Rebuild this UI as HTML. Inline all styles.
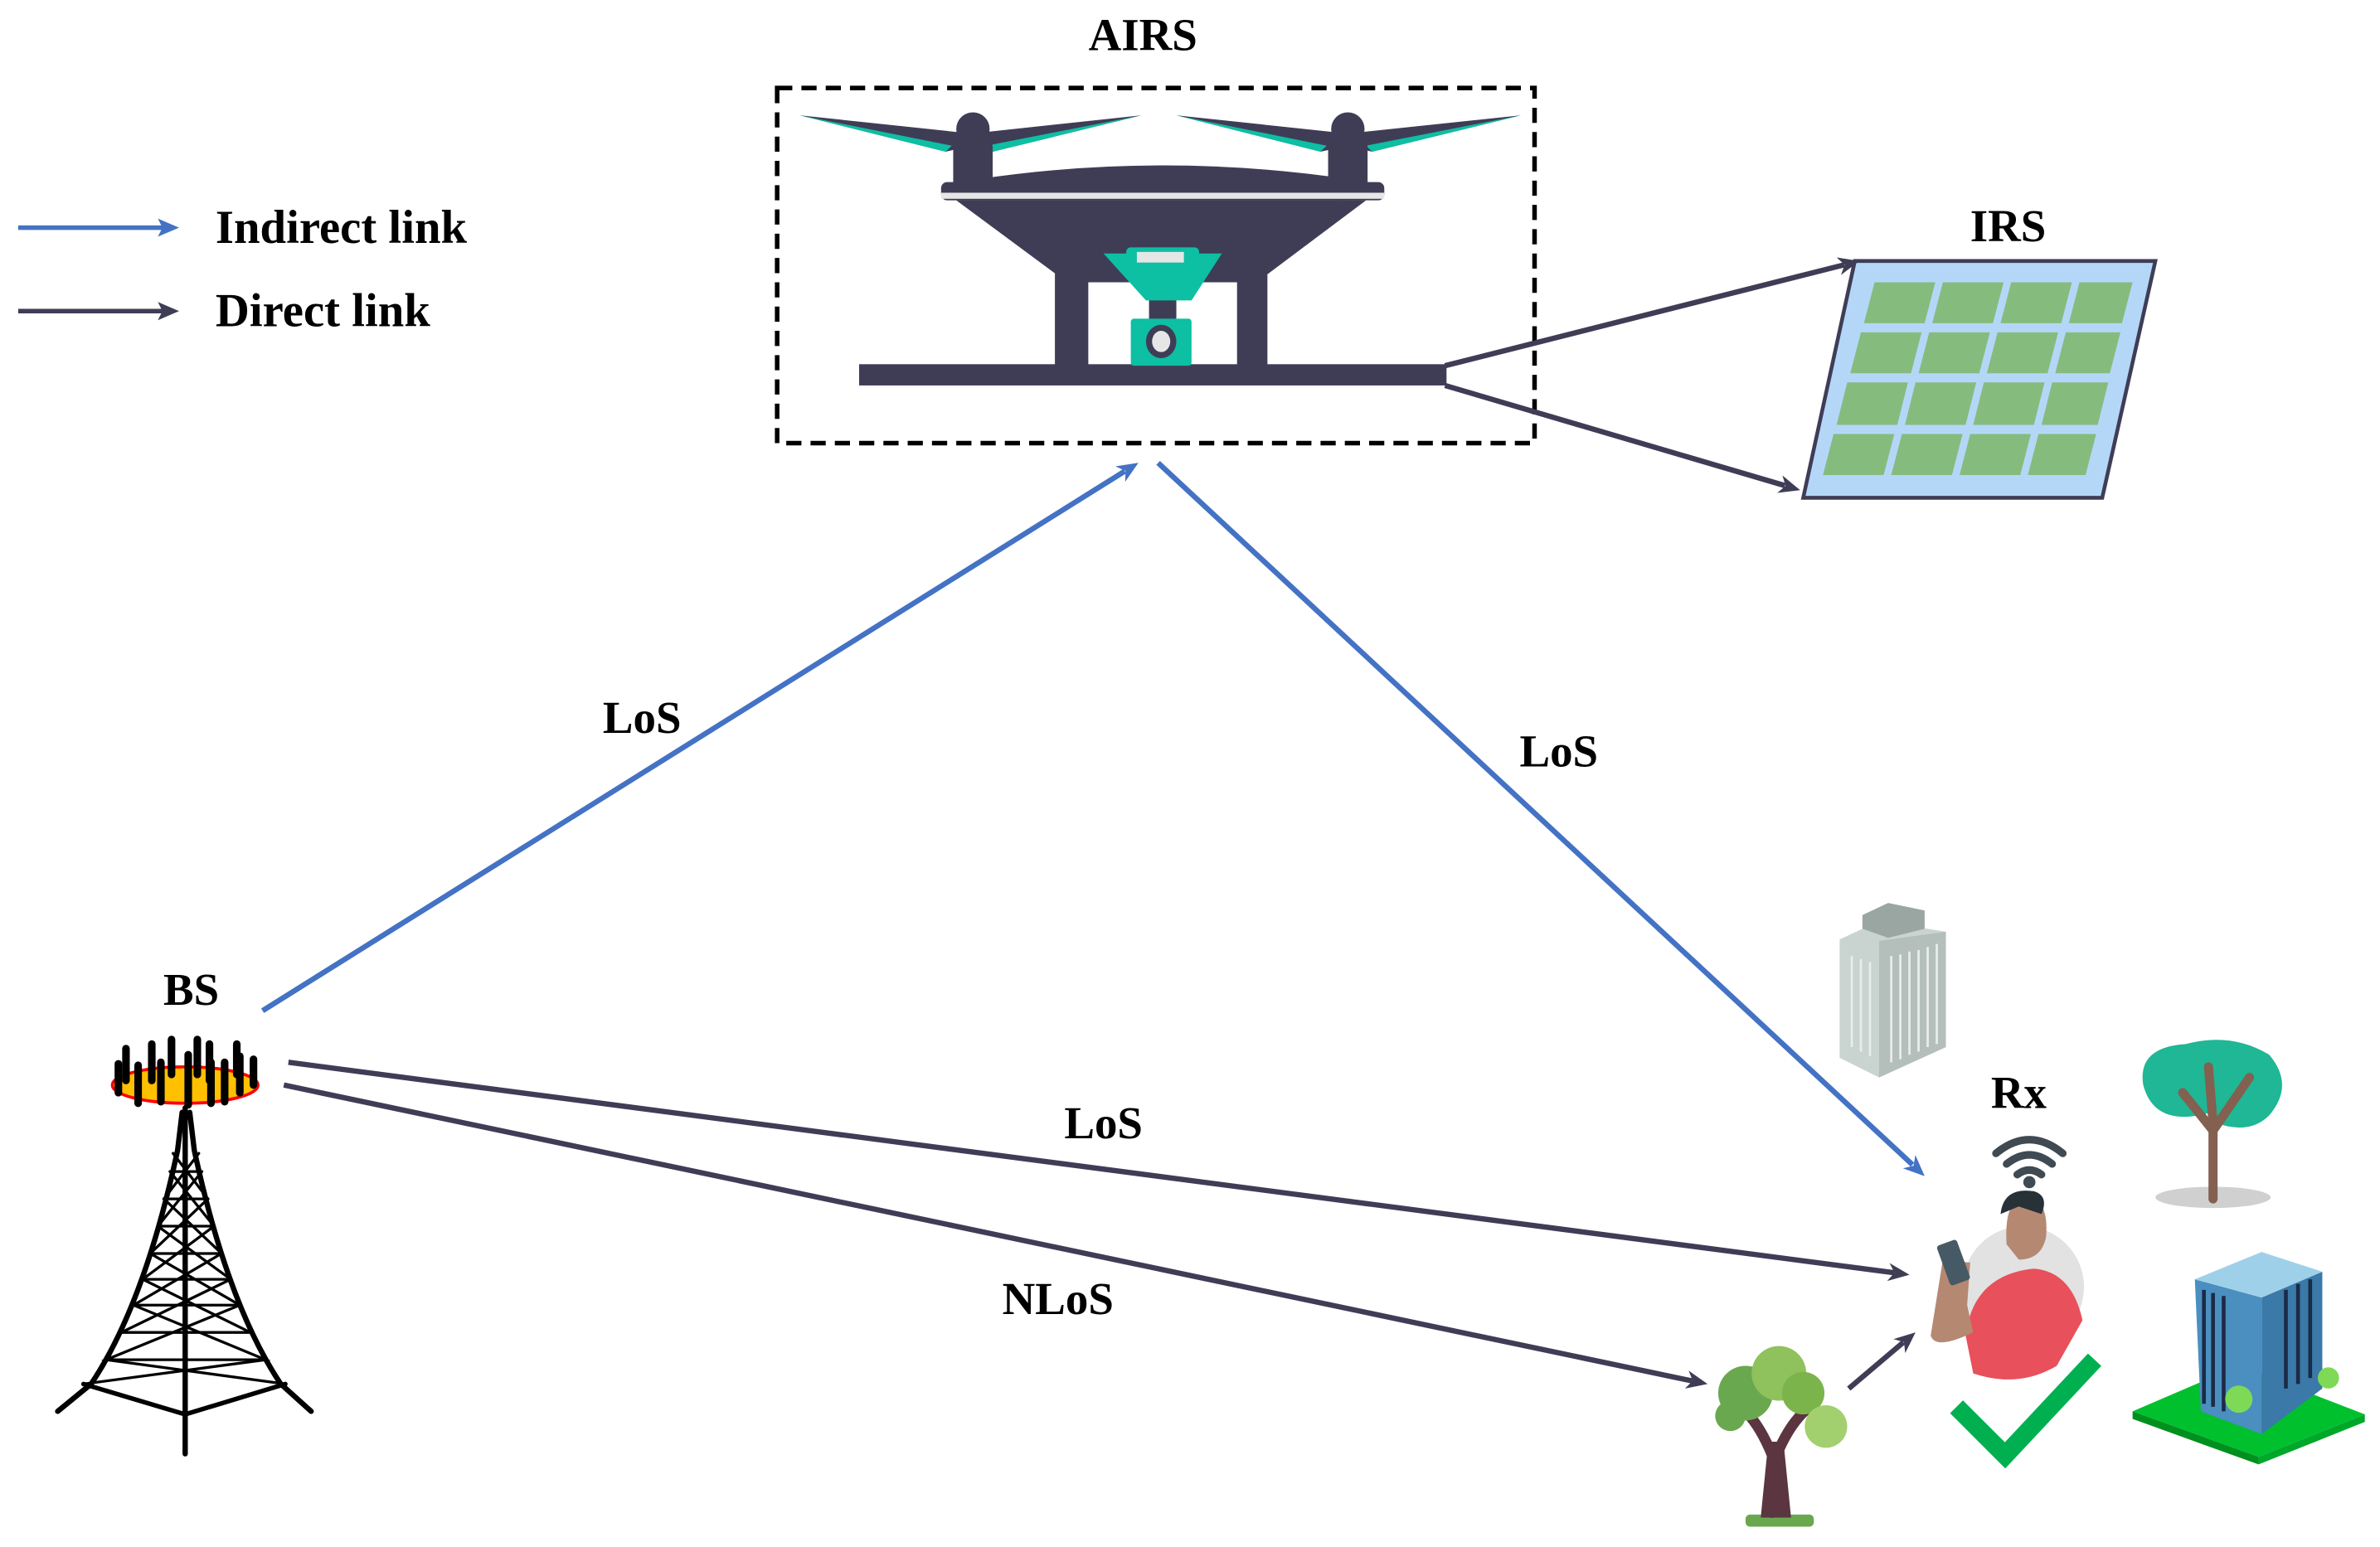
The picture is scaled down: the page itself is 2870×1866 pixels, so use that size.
<!DOCTYPE html>
<html><head><meta charset="utf-8"><style>
html,body{margin:0;padding:0;background:#fff;}
svg{display:block;}
text{font-family:"Liberation Serif",serif;font-weight:bold;fill:#000;}
</style></head><body>
<svg width="2870" height="1866" viewBox="0 0 1568 1019.4" preserveAspectRatio="none" xmlns="http://www.w3.org/2000/svg">
<style>.ab{stroke:#4472c4;stroke-width:3.5;fill:none}.ad{stroke:#3f3d56;stroke-width:3.5;fill:none}</style>

<!-- legend -->
<line x1="12" y1="150" x2="110" y2="150" class="ab" style="stroke-width:3"/>
<polygon points="118,150 104,144 107,150 104,156" fill="#4472c4"/>
<text x="142" y="160" font-size="31">Indirect link</text>
<line x1="12" y1="205" x2="110" y2="205" class="ad" style="stroke-width:3"/>
<polygon points="118,205 104,199 107,205 104,211" fill="#3f3d56"/>
<text x="142" y="215" font-size="31">Direct link</text>

<!-- AIRS -->
<text x="753" y="33" font-size="30" text-anchor="middle">AIRS</text>
<rect x="512" y="58" width="499" height="234" fill="none" stroke="#000" stroke-width="3" stroke-dasharray="10,6"/>
<g fill="#3f3d56">
<path d="M527,76 L640,88 L640,96 L623,100 Z"/>
<path d="M752,76 L640,88 L640,96 L654,100 Z"/>
<path d="M775,76 L888,88 L888,96 L870,100 Z"/>
<path d="M1002,76 L888,88 L888,96 L904,100 Z"/>
</g>
<g fill="#0dbfa3">
<path d="M527,76 L623,100 L627,96 Z"/><path d="M752,76 L654,100 L650,96 Z"/>
<path d="M775,76 L870,100 L874,96 Z"/><path d="M1002,76 L904,100 L900,96 Z"/>
</g>
<g fill="#3f3d56">
<ellipse cx="641" cy="85" rx="11" ry="11"/><ellipse cx="888" cy="85" rx="11" ry="11"/>
<rect x="628" y="92" width="26" height="40" rx="5"/><rect x="875" y="92" width="26" height="40" rx="5"/>
<path d="M645,118 Q766,100 888,118 L888,132 L645,132 Z"/>
<rect x="620" y="120" width="292" height="12" rx="4"/>
<path d="M630,132 L900,132 L828,186 L703,186 Z"/>
<rect x="695" y="180" width="22" height="70"/><rect x="815" y="180" width="20" height="70"/>
<rect x="566" y="240" width="387" height="14"/>
<rect x="757" y="197" width="18" height="50"/>
</g>
<rect x="620" y="127" width="292" height="4" fill="#e6e6e6"/>
<path d="M727,167 L805,167 L785,198 L755,198 Z" fill="#0dbfa3"/>
<rect x="742" y="163" width="48" height="12" rx="3" fill="#0dbfa3"/>
<rect x="749" y="166" width="31" height="7" fill="#e6e6e6"/>
<rect x="745" y="210" width="40" height="31" rx="2" fill="#0dbfa3"/>
<ellipse cx="765" cy="225" rx="10" ry="11" fill="#3f3d56"/><ellipse cx="765" cy="225" rx="6" ry="7" fill="#e6e6e6"/>

<!-- IRS -->
<text x="1323" y="159" font-size="30" text-anchor="middle">IRS</text>
<path d="M1222,172 L1420,172 L1385,328 L1188,328 Z" fill="#b4d7f8" stroke="#3f3d56" stroke-width="2.5"/>
<g fill="#85bc7e">
<path d="M1235,186 L1275,186 L1268,213 L1228,213 Z"/><path d="M1280,186 L1320,186 L1313,213 L1273,213 Z"/><path d="M1325,186 L1365,186 L1358,213 L1318,213 Z"/><path d="M1370,186 L1405,186 L1398,213 L1363,213 Z"/>
<path d="M1226,219 L1266,219 L1259,246 L1219,246 Z"/><path d="M1271,219 L1311,219 L1304,246 L1264,246 Z"/><path d="M1316,219 L1356,219 L1349,246 L1309,246 Z"/><path d="M1361,219 L1397,219 L1390,246 L1354,246 Z"/>
<path d="M1217,252 L1257,252 L1250,280 L1210,280 Z"/><path d="M1262,252 L1302,252 L1295,280 L1255,280 Z"/><path d="M1307,252 L1347,252 L1340,280 L1300,280 Z"/><path d="M1352,252 L1389,252 L1382,280 L1345,280 Z"/>
<path d="M1208,286 L1248,286 L1241,313 L1201,313 Z"/><path d="M1253,286 L1293,286 L1286,313 L1246,313 Z"/><path d="M1298,286 L1338,286 L1331,313 L1291,313 Z"/><path d="M1343,286 L1381,286 L1374,313 L1336,313 Z"/>
</g>
<line x1="952" y1="241" x2="1215" y2="174.5" class="ad"/>
<polygon points="1225,172 1212.9,181.2 1215.3,174.5 1210,169.6" fill="#3f3d56"/>
<line x1="952" y1="254" x2="1176" y2="320" class="ad"/>
<polygon points="1186,323 1170.9,324.8 1176.4,320.2 1174.3,313.3" fill="#3f3d56"/>

<!-- blue links -->
<line x1="173" y1="666" x2="741" y2="310.5" class="ab"/>
<polygon points="750,305 741.3,317.5 741.5,310.3 734.9,307.3" fill="#4472c4"/>
<line x1="763" y1="305" x2="1260" y2="767.5" class="ab"/>
<polygon points="1268,775 1253.7,769.9 1260.7,768.2 1261.9,761.1" fill="#4472c4"/>
<text x="423" y="483" font-size="30" text-anchor="middle">LoS</text>
<text x="1027" y="505" font-size="30" text-anchor="middle">LoS</text>

<!-- dark links -->
<line x1="190" y1="700" x2="1248" y2="838.7" class="ad"/>
<polygon points="1258,840 1243.3,844.1 1248.1,838.7 1244.9,832.3" fill="#3f3d56"/>
<line x1="187" y1="715" x2="1115" y2="910" class="ad"/>
<polygon points="1125,912 1110.1,915 1115.2,909.9 1112.5,903.2" fill="#3f3d56"/>
<line x1="1218" y1="915" x2="1254" y2="884.5" class="ad"/>
<polygon points="1262,878 1255.2,891.6 1254.4,884.4 1247.4,882.4" fill="#3f3d56"/>
<text x="727" y="750" font-size="30" text-anchor="middle">LoS</text>
<text x="697" y="866" font-size="30" text-anchor="middle">NLoS</text>

<!-- BS -->
<text x="126" y="662" font-size="30" text-anchor="middle">BS</text>
<ellipse cx="122" cy="715" rx="48" ry="12" fill="#ffc000" stroke="#f00" stroke-width="2"/>
<g stroke="#000" stroke-width="5" stroke-linecap="round">
<line x1="138" y1="688" x2="138" y2="712"/><line x1="130" y1="685" x2="130" y2="708"/><line x1="156" y1="688" x2="156" y2="708"/>
<line x1="167" y1="698" x2="167" y2="715"/><line x1="158" y1="696" x2="158" y2="720"/>
<line x1="100" y1="688" x2="100" y2="712"/><line x1="113" y1="685" x2="113" y2="708"/><line x1="83" y1="691" x2="83" y2="712"/>
<line x1="106" y1="700" x2="106" y2="726"/><line x1="148" y1="700" x2="148" y2="726"/><line x1="78" y1="701" x2="78" y2="720"/>
<line x1="124" y1="695" x2="124" y2="728"/><line x1="139" y1="700" x2="139" y2="727"/><line x1="91" y1="702" x2="91" y2="727"/>
</g>
<g stroke="#000" fill="none" stroke-linecap="round">
<path d="M120,733 L117,758 Q95,860 60,912 L38,930" stroke-width="3.5"/>
<path d="M125,733 L128,758 Q150,860 185,912 L205,930" stroke-width="3.5"/>
<line x1="122" y1="730" x2="122" y2="958" stroke-width="3.5"/>
<path d="M55,912 L122,932 L188,912" stroke-width="3"/>
<g stroke-width="1.8">
<path d="M112,772 L133,772 M108,790 L137,790 M104,808 L141,808 M99,826 L146,826 M94,843 L152,843 M88,860 L158,860 M80,878 L165,878 M70,896 L175,896"/>
<path d="M114,760 L137,790 L99,826 L158,860 L70,896 L188,912"/>
<path d="M131,760 L108,790 L146,826 L88,860 L175,896 L55,912"/>
<path d="M112,772 L141,808 L94,843 L165,878 M133,772 L104,808 L152,843 L80,878"/>
</g>
</g>

<!-- grey building -->
<path d="M1212,619 L1238,607 L1282,614 L1282,690 L1238,710 L1212,697 Z" fill="#c9d3d0"/>
<path d="M1238,620 L1282,614 L1282,690 L1238,710 Z" fill="#b4bfbb"/>
<path d="M1227,603 L1244,595 L1268,600 L1268,612 L1244,618 L1227,612 Z" fill="#9aa6a2"/>
<g stroke="#e8eeec" stroke-width="1.5"><path d="M1220,630 V690 M1226,632 V693 M1232,634 V696 M1246,630 V700 M1252,629 V698 M1258,627 V695 M1264,626 V693 M1270,624 V690 M1276,622 V688"/></g>

<!-- Rx -->
<text x="1330" y="730" font-size="30" text-anchor="middle">Rx</text>
<g fill="none" stroke="#3f4a52" stroke-width="5" stroke-linecap="round">
<path d="M1315,760 Q1337,742 1359,760"/><path d="M1322,767 Q1337,755 1352,767"/><path d="M1329,774 Q1337,768 1345,774"/>
</g>
<circle cx="1337" cy="779" r="4" fill="#3f4a52"/>
<circle cx="1333" cy="848" r="40" fill="#e2e2e2"/>
<path d="M1295,880 Q1300,840 1340,836 Q1365,838 1372,870 L1355,900 Q1330,915 1300,905 Z" fill="#e8505b"/>
<path d="M1322,820 Q1320,790 1335,788 Q1350,790 1348,815 Q1345,830 1330,830 Z" fill="#b58872"/>
<path d="M1318,800 Q1320,782 1340,785 Q1350,788 1345,800 L1330,795 Z" fill="#263238"/>
<path d="M1280,830 L1272,880 Q1275,890 1300,878 L1296,860 L1298,832 Z" fill="#b58872"/>
<rect x="1280" y="818" width="14" height="28" rx="2" transform="rotate(-20 1287 832)" fill="#455a64"/>
<path d="M1289,927 L1321,959 L1380,896" fill="none" stroke="#00b050" stroke-width="12"/>

<!-- teal tree -->
<ellipse cx="1458" cy="789" rx="38" ry="7" fill="#d0d0d0"/>
<path d="M1460,732 Q1420,745 1412,715 Q1408,690 1440,688 Q1470,680 1495,695 Q1512,715 1495,735 Q1482,748 1460,740 Z" fill="#1fb795"/>
<path d="M1458,790 L1458,745 L1438,720 M1458,745 L1482,710 M1458,740 L1455,703" stroke="#83604f" stroke-width="6" fill="none" stroke-linecap="round"/>

<!-- blue building -->
<path d="M1405,930 L1475,900 L1558,932 L1488,960 Z" fill="#00c02e"/>
<path d="M1405,930 L1488,960 L1488,965 L1405,935 Z" fill="#00901e"/>
<path d="M1558,932 L1488,960 L1488,965 L1558,937 Z" fill="#00a82a"/>
<path d="M1446,843 L1490,855 L1490,945 L1450,930 Z" fill="#4a8fc0"/>
<path d="M1490,855 L1530,838 L1530,915 L1490,945 Z" fill="#3a79a8"/>
<path d="M1446,843 L1490,825 L1530,838 L1490,855 Z" fill="#9fd0ea"/>
<g stroke="#1b2a45" stroke-width="2.5"><path d="M1452,850 V925 M1458,852 V927 M1465,854 V930 M1506,850 V915 M1514,846 V912 M1522,843 V908"/></g>
<circle cx="1475" cy="922" r="9" fill="#7ed957"/><circle cx="1534" cy="908" r="7" fill="#7ed957"/>

<!-- lower tree -->
<rect x="1150" y="998" width="45" height="8" rx="3" fill="#6aa84f"/>
<path d="M1165,1000 L1168,960 Q1160,940 1150,930 M1170,960 Q1180,935 1195,925" stroke="#5b3540" stroke-width="7" fill="none"/>
<path d="M1160,1000 L1165,950 L1175,950 L1180,1000 Z" fill="#5b3540"/>
<circle cx="1150" cy="918" r="18" fill="#6aa84f"/><circle cx="1172" cy="905" r="18" fill="#8fc15c"/><circle cx="1188" cy="918" r="14" fill="#7cb44c"/><circle cx="1140" cy="933" r="10" fill="#6aa84f"/><circle cx="1203" cy="940" r="14" fill="#a3d06f"/>
</svg>
</body></html>
